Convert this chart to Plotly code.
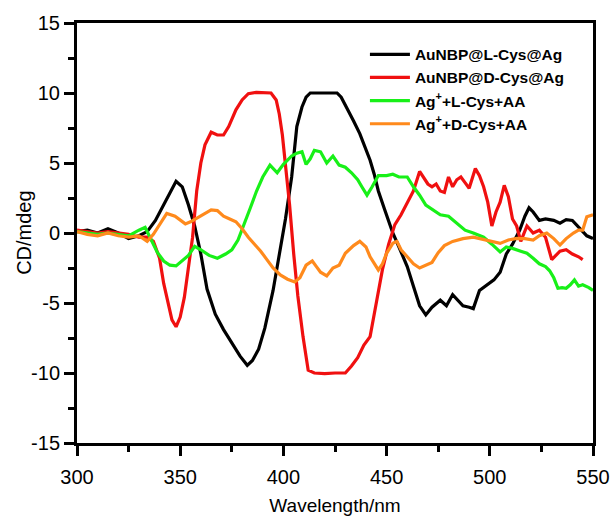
import plotly.graph_objects as go

# AuNBP@L-Cys@Ag (black)
x_L = [300,305,310,315,320,325,330,334,338,342,346,348,351,354,357,360,363,367,371,375,379,382.5,385,388,391,395,398,401,404,406.5,409,411,413,418,422,426,428,431,434,437,440,442,444,446,449,453,456,460,463,466,469,472,476,479,482,485,487,490,492,495,498,502,505,508,511,514.5,517,519,521,524,527,531,534,537,540,544,547,550]
y_L = [0.1,0.2,0,0.3,0,-0.4,-0.2,0.1,0.9,2.0,3.2,3.7,3.3,2.0,0.5,-1.5,-4.0,-5.8,-6.9,-7.8,-8.8,-9.45,-9.1,-8.3,-6.8,-4.1,-1.7,1.0,4.0,7.6,9.0,9.7,10,10,9.95,10,9.7,8.9,8.0,7.1,6.0,5.2,4.2,3.0,1.7,0,-1.0,-2.4,-3.8,-5.2,-5.85,-5.3,-4.8,-5.2,-4.4,-4.9,-5.2,-5.3,-5.4,-4.1,-3.8,-3.35,-2.8,-1.5,-0.8,0.2,1.2,1.8,1.5,0.9,1.0,0.9,0.7,0.95,0.9,0.3,-0.2,-0.4]

# AuNBP@D-Cys@Ag (red)
x_D = [300,305,310,315,320,325,330,334,337,340,342,344,346,348,350,352,354,356,358,360,362,365,368,371,373.5,377,380,383,387,391,394,396.5,398,399.5,401,403,405,407,409.5,412,415,420,425,430,433,436,439,442,445,448,451,454,457,460,463,466,468,470,472,474,476,478,480,482,484,486,488,490,493,495,497,499,501,503,505,507,509,511,513,515,518,521,524,527,530,534,537,540,543,545,548,550]
y_D = [0.2,0.1,0,0.1,0,-0.1,-0.3,-0.3,-0.6,-1.8,-3.6,-5.0,-6.2,-6.7,-6.0,-4.6,-2.5,-0.3,3.0,5.0,6.3,7.2,7.0,7.0,7.6,8.8,9.5,9.95,10.05,10,10,9.5,8.5,7.0,5.0,2.0,-1.5,-4.5,-7.4,-9.8,-10,-10.05,-10,-10,-9.5,-8.9,-8.0,-7.4,-5.0,-2.6,-0.8,0.6,1.3,2.2,3.0,4.4,3.9,3.5,3.3,3.5,3.0,2.9,4.0,3.3,3.8,4.0,3.6,3.2,4.6,4.1,3.3,2.2,0.5,1.5,2.2,3.4,2.6,1.0,0.5,-0.6,0.5,0,0.2,-0.3,-1.9,-1.3,-1.2,-1.5,-1.7,-1.9]

# Ag+ + L-Cys + AA (green)
x_gL = [300,305,310,315,320,325,330,333,336,339,342,345,348,351,354,357,360,364,368,372,375,378,381,384,387,390,393.5,397,400,402,404,406.5,409,411,413,415,418,421,424,427,430,433,436,438,440.5,443,446,450,453,456,460,463,466,469,472,476,480,484,488,492,497,501,505,508,511,515,518,521,524,527,529,531,533,535,537,539,541,543,545,548,550]
y_gL = [0.1,0.0,-0.1,0.0,-0.1,-0.2,0.2,0.4,-0.5,-1.4,-2.0,-2.3,-2.35,-2.0,-1.6,-0.95,-1.2,-1.6,-1.8,-1.5,-1.2,-0.5,0.6,1.8,3.0,4.0,4.85,4.3,4.9,5.2,5.5,5.7,5.8,4.9,5.3,5.9,5.8,5.0,5.5,4.85,4.7,4.3,3.8,3.3,2.7,3.3,4.1,4.1,4.2,4.0,4.0,3.3,2.7,2.0,1.7,1.3,1.2,0.7,0.2,0,-0.3,-0.8,-1.35,-1.0,-1.1,-1.3,-1.45,-1.8,-2.2,-2.4,-2.7,-3.2,-3.95,-3.9,-3.95,-3.7,-3.35,-3.8,-3.7,-3.9,-4.1]

# Ag+ + D-Cys + AA (orange)
x_gD = [300,305,310,315,320,325,330,334,337,340,343.5,347.5,350,352.5,355,358,361,365,368,371,374,377,380,383,386,389,392,395,398.5,402,405.5,408,411,414,416,418,421,424,427,430,434,437,440,442,446,448,450,453,455,457,460,463,466,469,472,475,478,482,487,492,498,502,505,509,513,517,521,524,527.6,531,534,537,540.5,543,545,547,550]
y_gD = [0.1,-0.1,-0.2,0.0,-0.2,-0.3,-0.2,-0.6,-0.1,0.6,1.4,1.2,0.9,0.65,0.8,1.05,1.3,1.65,1.6,1.2,1.0,0.8,0.3,-0.3,-0.8,-1.3,-1.9,-2.5,-3.0,-3.3,-3.5,-3.2,-2.3,-2.0,-2.4,-2.8,-3.07,-2.5,-2.3,-1.45,-0.9,-0.6,-1.0,-1.7,-2.64,-2.2,-1.45,-0.74,-0.6,-1.2,-1.7,-2.2,-2.5,-2.3,-2.1,-1.4,-0.9,-0.6,-0.4,-0.3,-0.5,-0.6,-0.74,-0.5,-0.38,-0.4,-0.5,-0.2,0,-0.4,-0.86,-0.4,0,0.2,0.2,1.16,1.3]

x_ticks = [300, 350, 400, 450, 500, 550]
y_ticks = [-15, -10, -5, 0, 5, 10, 15]
y_ticktext = ["-15", "-10", "-5", "0", "5", "10", "15"]

names = ["AuNBP@L-Cys@Ag", "AuNBP@D-Cys@Ag", "Ag<sup>+</sup>+L-Cys+AA", "Ag<sup>+</sup>+D-Cys+AA"]
colors = ["#000000", "#f01010", "#18f018", "#ff8a1c"]
series = [(x_L, y_L), (x_D, y_D), (x_gL, y_gL), (x_gD, y_gD)]

fig = go.Figure()
for i, ((xs, ys), n, c) in enumerate(zip(series, names, colors)):
    fig.add_trace(go.Scatter(x=xs, y=ys, mode="lines", name=n, legendgroup=str(i),
                             line=dict(color=c, width=3.2)))

reg = "Liberation Sans, Arial, sans-serif"
fig.update_layout(
    width=613, height=520,
    margin=dict(l=77, r=20, t=23, b=77),
    paper_bgcolor="white", plot_bgcolor="white",
    font=dict(family=reg, size=20, color="black"),
    showlegend=True,
    legend=dict(x=0.558, y=0.965, xanchor="left", yanchor="top",
                font=dict(family=reg, size=15.5, color="black", weight="bold"),
                bgcolor="rgba(0,0,0,0)", tracegroupgap=0, itemwidth=40),
    annotations=[dict(text="CD/mdeg", xref="paper", yref="paper", x=-0.103, y=0.5,
                      xanchor="center", yanchor="middle", textangle=-90, showarrow=False,
                      font=dict(family=reg, size=20, color="black"))],
)
fig.update_xaxes(range=[300, 550], tickvals=x_ticks,
                 ticks="outside", ticklen=10, tickwidth=3, tickcolor="black",
                 minor=dict(tickvals=[325, 375, 425, 475, 525], ticks="outside", ticklen=6,
                            tickwidth=3, tickcolor="black"),
                 showline=True, linewidth=3, linecolor="black", mirror=True,
                 showgrid=False, zeroline=False, automargin=False,
                 ticklabelstandoff=4,
                 title=dict(text="Wavelength/nm", font=dict(family=reg, size=19), standoff=12),
                 tickfont=dict(family=reg, size=20))
fig.update_yaxes(range=[-15, 15], tickvals=y_ticks, ticktext=y_ticktext,
                 ticks="outside", ticklen=10, tickwidth=3, tickcolor="black",
                 minor=dict(tickvals=[-12.5, -7.5, -2.5, 2.5, 7.5, 12.5], ticks="outside", ticklen=6,
                            tickwidth=3, tickcolor="black"),
                 showline=True, linewidth=3, linecolor="black", mirror=True,
                 showgrid=False, zeroline=False, automargin=False,
                 tickfont=dict(family=reg, size=20))

fig.write_html("out.html", post_script="document.body.style.margin='0';",
               config={"displayModeBar": False})
